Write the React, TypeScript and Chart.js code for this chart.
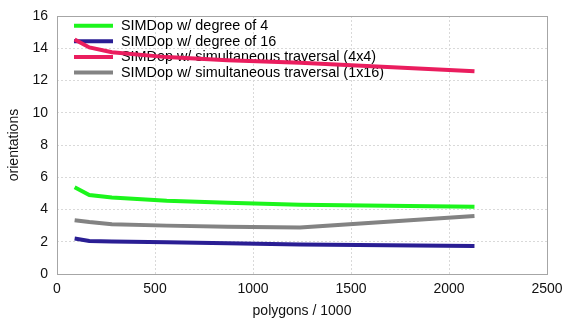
import React, { useEffect, useRef } from "react";
import { Chart, registerables } from "chart.js";

Chart.register(...registerables);

const polygons = [90, 165, 280, 560, 870, 1240, 2130];
const degree4 = [5.38, 4.9, 4.75, 4.55, 4.42, 4.3, 4.17];
const degree16 = [2.2, 2.05, 2.02, 1.97, 1.9, 1.83, 1.74];
const simul4x4 = [14.55, 14.05, 13.75, 13.45, 13.25, 13.1, 12.58];
const simul1x16 = [3.34, 3.22, 3.08, 3.0, 2.93, 2.89, 3.6];

const seriesLabels = [
  "SIMDop w/ degree of 4",
  "SIMDop w/ degree of 16",
  "SIMDop w/ simultaneous traversal (4x4)",
  "SIMDop w/ simultaneous traversal (1x16)",
];
const seriesColors = ["#1cf51c", "#2a1e94", "#ea1d5e", "#838383"];
const seriesValues = [degree4, degree16, simul4x4, simul1x16];

const FONT = "'Liberation Sans', Arial, sans-serif";

const boxLegendPlugin = {
  id: "boxLegend",
  beforeDatasetsDraw(chart: any) {
    const { ctx, chartArea } = chart;
    ctx.save();
    ctx.font = `14.4px ${FONT}`;
    ctx.textBaseline = "middle";
    ctx.textAlign = "left";
    chart.data.datasets.forEach((ds: any, i: number) => {
      const y = chartArea.top + 9.7 + i * 15.6;
      ctx.strokeStyle = ds.borderColor;
      ctx.lineWidth = 4;
      ctx.beginPath();
      ctx.moveTo(chartArea.left + 17, y);
      ctx.lineTo(chartArea.left + 56, y);
      ctx.stroke();
      ctx.fillStyle = "#000";
      ctx.fillText(ds.label, chartArea.left + 64, y + 0.5);
    });
    ctx.strokeStyle = "#a6a6a6";
    ctx.lineWidth = 1;
    ctx.strokeRect(
      Math.round(chartArea.left) + 0.5,
      Math.round(chartArea.top) + 0.5,
      Math.round(chartArea.right - chartArea.left),
      Math.round(chartArea.bottom - chartArea.top)
    );
    ctx.restore();
  },
};

export default function App() {
  const ref = useRef<HTMLCanvasElement>(null);
  useEffect(() => {
    document.body.style.margin = "0";
    const canvas = ref.current!;
    const chart = new Chart(canvas, {
      type: "line",
      data: {
        datasets: seriesLabels.map((label, i) => ({
          label,
          data: polygons.map((x, j) => ({ x, y: seriesValues[i][j] })),
          borderColor: seriesColors[i],
          backgroundColor: seriesColors[i],
          borderWidth: 4,
          pointRadius: 0,
          tension: 0,
          fill: false,
        })),
      },
      options: {
        animation: false,
        responsive: false,
        layout: { padding: { top: 16, right: 17, left: 0, bottom: 0 } },
        plugins: {
          legend: { display: false },
          tooltip: { enabled: false },
        },
        scales: {
          x: {
            type: "linear",
            min: 0,
            max: 2500,
            ticks: {
              stepSize: 500,
              color: "#111",
              font: { family: FONT, size: 14 },
              padding: 7,
              maxRotation: 0,
              callback: (v: any) => String(v),
            },
            grid: { color: "#d9d9d9", drawTicks: false },
            border: { display: false, dash: [2, 2] },
            title: {
              display: true,
              text: "polygons / 1000",
              color: "#111",
              font: { family: FONT, size: 14 },
              padding: { top: 2, bottom: 0 },
            },
            afterFit: (scale: any) => {
              scale.height = 46;
              scale.paddingRight = 0;
              scale.paddingLeft = 0;
            },
          },
          y: {
            type: "linear",
            min: 0,
            max: 16,
            ticks: {
              stepSize: 2,
              color: "#111",
              font: { family: FONT, size: 14 },
              padding: 9,
              callback: (v: any) => String(v),
            },
            grid: { color: "#d9d9d9", drawTicks: false },
            border: { display: false, dash: [2, 2] },
            title: {
              display: true,
              text: "orientations",
              color: "#111",
              font: { family: FONT, size: 14 },
              padding: { top: 6, bottom: 0 },
            },
            afterFit: (scale: any) => {
              scale.width = 57;
              scale.paddingTop = 0;
              scale.paddingBottom = 0;
            },
          },
        },
      },
      plugins: [boxLegendPlugin],
    } as any);
    return () => chart.destroy();
  }, []);
  return <canvas ref={ref} width={564} height={320} style={{ display: "block" }} />;
}
